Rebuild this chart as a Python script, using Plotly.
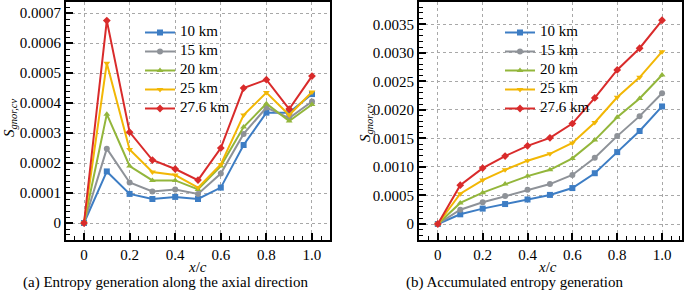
import plotly.graph_objects as go

x_vals = [0, 0.1, 0.2, 0.3, 0.4, 0.5, 0.6, 0.7, 0.8, 0.9, 1.0]
series_names = ["10 km", "15 km", "20 km", "25 km", "27.6 km"]

# (a) entropy generation along axial direction
s_local_10 = [0, 0.000172, 0.000097, 0.000080, 0.000087, 0.000080, 0.000118, 0.000260, 0.000368, 0.000368, 0.000430]
s_local_15 = [0, 0.000248, 0.000135, 0.000105, 0.000112, 0.000097, 0.000165, 0.000297, 0.000385, 0.000350, 0.000405]
s_local_20 = [0, 0.000363, 0.000190, 0.000142, 0.000142, 0.000112, 0.000190, 0.000320, 0.000398, 0.000340, 0.000395]
s_local_25 = [0, 0.000533, 0.000245, 0.000170, 0.000160, 0.000118, 0.000195, 0.000360, 0.000435, 0.000360, 0.000437]
s_local_276 = [0, 0.000675, 0.000303, 0.000210, 0.000180, 0.000143, 0.000250, 0.000450, 0.000478, 0.000380, 0.000490]

# (b) accumulated entropy generation
s_acc_10 = [0, 0.00017, 0.00027, 0.00035, 0.00043, 0.00051, 0.00063, 0.00089, 0.00126, 0.00163, 0.00206]
s_acc_15 = [0, 0.00025, 0.00038, 0.00049, 0.00060, 0.00070, 0.00086, 0.00116, 0.00154, 0.00189, 0.00229]
s_acc_20 = [0, 0.00037, 0.00055, 0.00070, 0.00084, 0.00095, 0.00115, 0.00147, 0.00187, 0.00220, 0.00261]
s_acc_25 = [0, 0.00053, 0.00077, 0.00095, 0.00111, 0.00123, 0.00142, 0.00178, 0.00222, 0.00257, 0.00302]
s_acc_276 = [0, 0.00068, 0.00098, 0.00119, 0.00137, 0.00151, 0.00176, 0.00221, 0.00270, 0.00308, 0.00357]

x_tickvals = [0, 0.2, 0.4, 0.6, 0.8, 1.0]
x_ticktext = ["0", "0.2", "0.4", "0.6", "0.8", "1.0"]
ya_tickvals = [0, 0.0001, 0.0002, 0.0003, 0.0004, 0.0005, 0.0006, 0.0007]
ya_ticktext = ["0", "0.0001", "0.0002", "0.0003", "0.0004", "0.0005", "0.0006", "0.0007"]
yb_tickvals = [0, 0.0005, 0.0010, 0.0015, 0.0020, 0.0025, 0.0030, 0.0035]
yb_ticktext = ["0", "0.0005", "0.0010", "0.0015", "0.0020", "0.0025", "0.0030", "0.0035"]

colors = ["#3d7dc4", "#8e9298", "#93b63b", "#f2b705", "#d92b2b"]
symbols = ["square", "circle", "triangle-up", "triangle-down", "diamond"]

local_series = [s_local_10, s_local_15, s_local_20, s_local_25, s_local_276]
acc_series = [s_acc_10, s_acc_15, s_acc_20, s_acc_25, s_acc_276]

FONT = "Liberation Serif"
fig = go.Figure()

def legend_label(s):
    return "<span style='font-size:15px'>" + s + "</span>"

for i, name in enumerate(series_names):
    fig.add_trace(go.Scatter(
        x=x_vals, y=local_series[i], name=legend_label(name), mode="lines+markers",
        line=dict(color=colors[i], width=2),
        marker=dict(symbol=symbols[i], size=6, color=colors[i]),
        xaxis="x", yaxis="y", legend="legend"))
for i, name in enumerate(series_names):
    fig.add_trace(go.Scatter(
        x=x_vals, y=acc_series[i], name=legend_label(name), mode="lines+markers",
        line=dict(color=colors[i], width=2),
        marker=dict(symbol=symbols[i], size=6, color=colors[i]),
        xaxis="x2", yaxis="y2", legend="legend2"))

W, H = 685, 290
def axis_common():
    return dict(
        showline=True, linecolor="black", linewidth=2, mirror=True,
        ticks="inside", ticklen=7, tickwidth=2, tickcolor="black",
        showgrid=True, gridcolor="#a8a8a8", gridwidth=1, griddash="dot",
        zeroline=False,
        tickfont=dict(family=FONT, size=15, color="black"),
        minor=dict(ticks="inside", ticklen=4, tickwidth=1, tickcolor="black", showgrid=False),
    )

ax_x1 = axis_common()
ax_x1.update(domain=[66 / W, 330 / W], range=[-0.079, 1.079], tickmode="array",
             tickvals=x_tickvals, ticktext=x_ticktext, anchor="y")
ax_x1["minor"].update(dtick=0.04, tick0=0)
ax_y1 = axis_common()
ax_y1.update(domain=[(H - 240) / H, (H - 2) / H], range=[-0.0000567, 0.000737], tickmode="array",
             tickvals=ya_tickvals, ticktext=ya_ticktext, anchor="x")
ax_y1["minor"].update(dtick=0.00002, tick0=0)
ax_x2 = axis_common()
ax_x2.update(domain=[419 / W, 682 / W], range=[-0.084, 1.089], tickmode="array",
             tickvals=x_tickvals, ticktext=x_ticktext, anchor="y2")
ax_x2["minor"].update(dtick=0.04, tick0=0)
ax_y2 = axis_common()
ax_y2.update(domain=[(H - 240) / H, (H - 2) / H], range=[-0.00028, 0.00389], tickmode="array",
             tickvals=yb_tickvals, ticktext=yb_ticktext, anchor="x2")
ax_y2["minor"].update(dtick=0.0001, tick0=0)

legend_common = dict(
    bgcolor="rgba(255,255,255,0)", borderwidth=0,
    font=dict(family=FONT, size=10, color="black"),
    itemwidth=30, tracegroupgap=0, xanchor="left", yanchor="top",
    xref="paper", yref="paper",
)

fig.update_layout(
    width=W, height=H,
    margin=dict(l=0, r=0, t=0, b=0),
    paper_bgcolor="white", plot_bgcolor="white",
    font=dict(family=FONT, size=15, color="black"),
    xaxis=ax_x1, yaxis=ax_y1, xaxis2=ax_x2, yaxis2=ax_y2,
    legend=dict(legend_common, x=140 / W, y=1 - 18 / H),
    legend2=dict(legend_common, x=500 / W, y=1 - 18 / H),
    showlegend=True,
)

ann = []
ytitle = "<i>S</i><sub><i>gnor,cv</i></sub>"
common_ann = dict(xref="paper", yref="paper", showarrow=False, xanchor="center", yanchor="middle")
ann.append(dict(common_ann, text=ytitle, x=10 / W, y=1 - 118 / H, textangle=-90,
                font=dict(family=FONT, size=15)))
ann.append(dict(common_ann, text=ytitle, x=366 / W, y=1 - 123 / H, textangle=-90,
                font=dict(family=FONT, size=15)))
ann.append(dict(common_ann, text="<i>x</i>/<i>c</i>", x=197 / W, y=1 - 267 / H,
                font=dict(family=FONT, size=15)))
ann.append(dict(common_ann, text="<i>x</i>/<i>c</i>", x=547 / W, y=1 - 267 / H,
                font=dict(family=FONT, size=15)))
ann.append(dict(common_ann, text="(a) Entropy generation along the axial direction", x=165 / W, y=1 - 282 / H,
                font=dict(family=FONT, size=15)))
ann.append(dict(common_ann, text="(b) Accumulated entropy generation", x=515 / W, y=1 - 282 / H,
                font=dict(family=FONT, size=15)))
fig.update_layout(annotations=ann)

fig.write_html("out.html", config={"displayModeBar": False},
               post_script="document.body.style.margin='0';document.body.style.overflow='hidden';")
